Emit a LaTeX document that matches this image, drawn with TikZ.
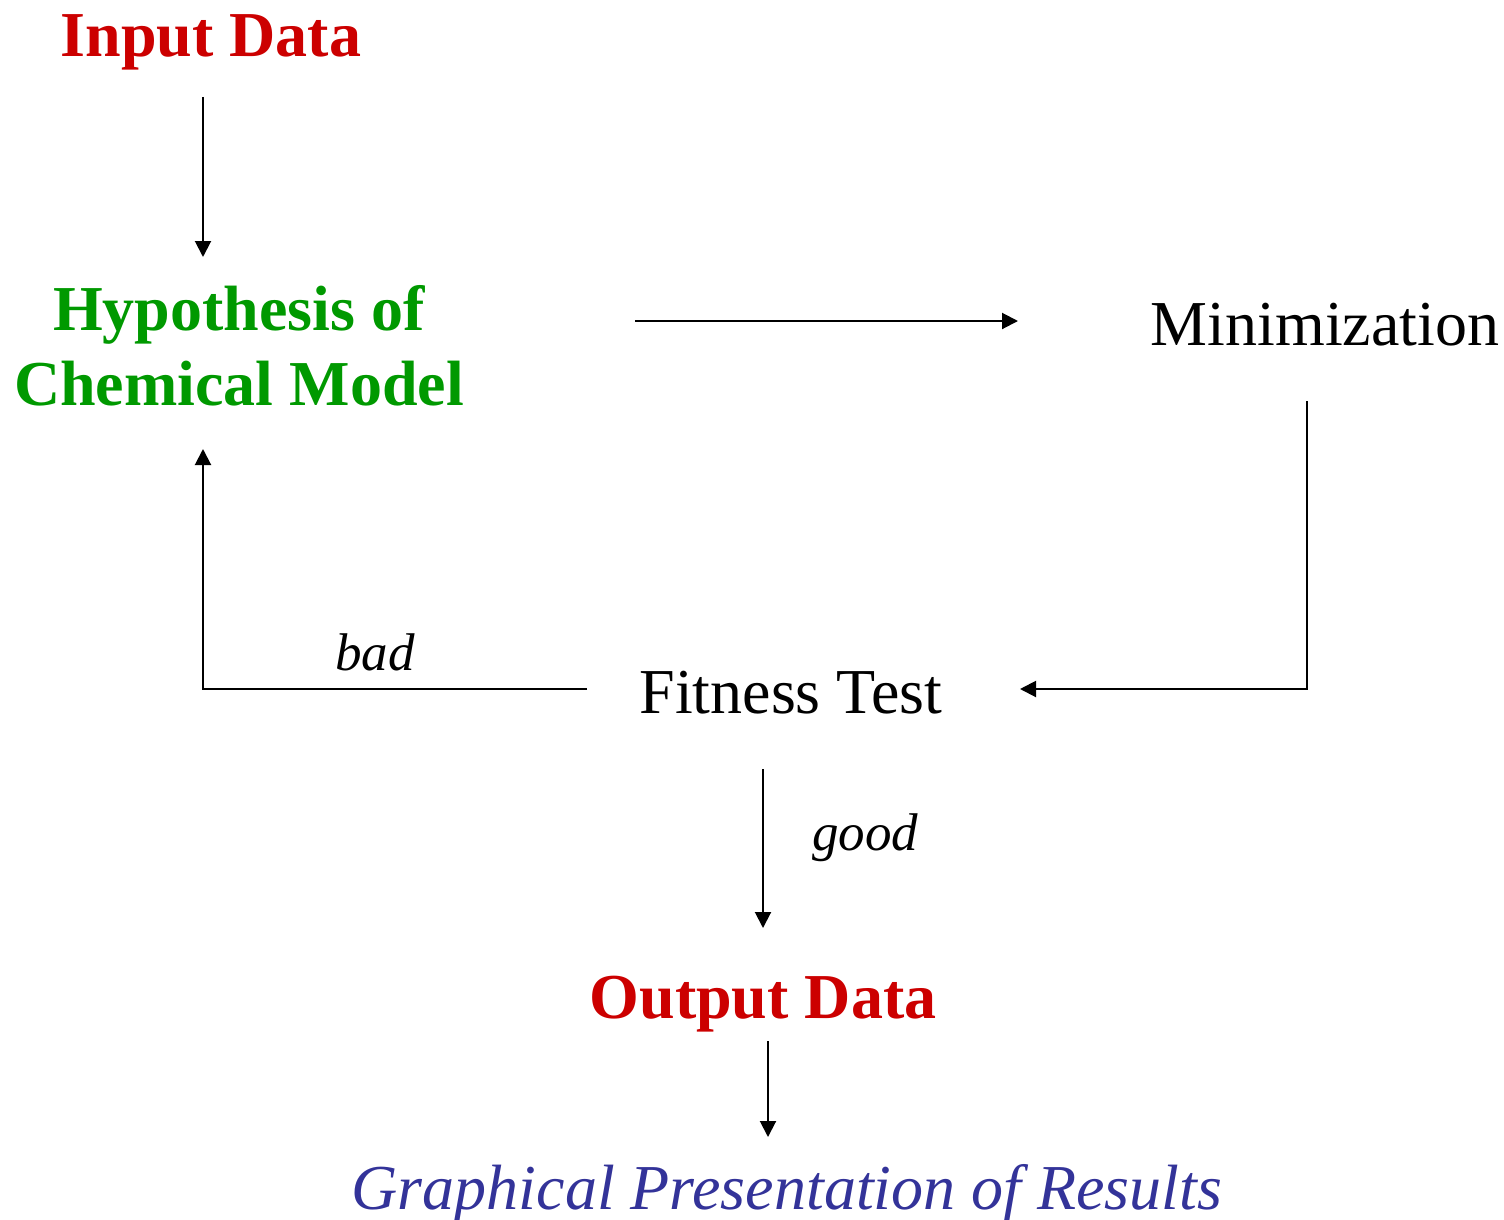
\documentclass[tikz,border=0pt]{standalone}
\usepackage{fontspec}
\setmainfont{Liberation Serif}
\usetikzlibrary{arrows.meta, calc}

\definecolor{datared}{RGB}{204,0,0}
\definecolor{modelgreen}{RGB}{0,153,0}
\definecolor{resultblue}{RGB}{51,51,153}

\begin{document}
\begin{tikzpicture}[x=0.5pt, y=-0.5pt,
    flow/.style={-{Triangle[length=8pt, width=8pt]}, line width=1pt},
    plain/.style={anchor=base, inner sep=0pt, font=\fontsize{32}{37.5}\selectfont},
    heavy/.style={anchor=base, inner sep=0pt, align=center, font=\fontsize{32}{37.5}\selectfont\bfseries},
    verdict/.style={anchor=base, inner sep=0pt, font=\fontsize{26.5}{30}\selectfont\itshape}]
    \useasboundingbox (0, 0) rectangle (1504, 1220);

    \node (input) [heavy, text=datared] at (211, 57) {Input Data};
    \node (hyp) [heavy, text=modelgreen] at (239, 405) {Hypothesis of\\Chemical Model};
    \node (mini) [plain] at (1325, 345) {Minimization};
    \node (fit) [plain] at (791, 713) {Fitness Test};
    \node (bad) [verdict] at (375, 670) {bad};
    \node (good) [verdict] at (865, 850) {good};
    \node (output) [heavy, text=datared] at (763, 1018) {Output Data};
    \node (graph) [plain, text=resultblue, font=\fontsize{32}{37.5}\selectfont\itshape] at (787, 1209) {Graphical Presentation of Results};

    \draw [flow] ($(input.base)+(-8, 40)$) -- ($(hyp.base)+(-36, -148)$);
    \draw [flow] ($(hyp.base)+(396, -84)$) -- ($(mini.base)+(-307, -24)$);
    \draw [flow] ($(mini.base)+(-18, 56)$) |- ($(fit.base)+(229, -24)$);
    \draw [flow] ($(fit.base)+(-204, -24)$) -| ($(hyp.base)+(-36, 44)$);
    \draw [flow] ($(fit.base)+(-28, 56)$) -- ($(output.base)+(0, -90)$);
    \draw [flow] ($(output.base)+(5, 23)$) -- ($(graph.base)+(-19, -72)$);
\end{tikzpicture}
\end{document}
